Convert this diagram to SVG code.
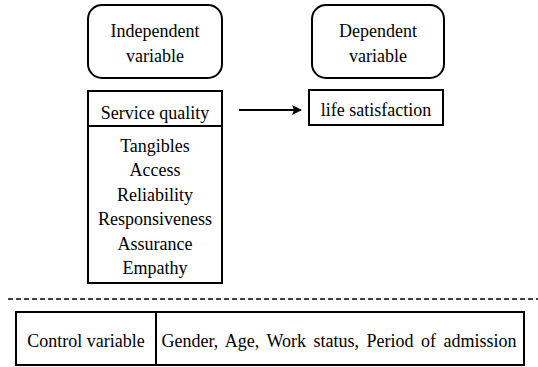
<svg xmlns="http://www.w3.org/2000/svg" width="538" height="367" viewBox="0 0 538 367" font-family="Liberation Serif, Times New Roman, serif" font-size="18">
<style>
text{fill:#000;text-anchor:middle}
.b{fill:#fff;stroke:#000;stroke-width:2}
.l{stroke:#000;stroke-width:2;fill:none}
</style>
<defs>
<marker id="ah" viewBox="0 0 10 10" refX="9" refY="5" markerWidth="5" markerHeight="5" orient="auto" markerUnits="strokeWidth">
<path d="M0,0 L10,5 L0,10 L2,5 z" fill="#000"/>
</marker>
</defs>
<rect width="538" height="367" fill="#fff"/>
<g id="independent">
<rect class="b" x="88" y="5" width="134" height="73" rx="14"/>
<text x="155" y="37">Independent</text>
<text x="155" y="62">variable</text>
</g>
<g id="dependent">
<rect class="b" x="312" y="5" width="132" height="73" rx="14"/>
<text x="378" y="37">Dependent</text>
<text x="378" y="62">variable</text>
</g>
<g id="service-quality">
<rect class="b" x="88" y="91" width="134" height="192"/>
<line class="l" x1="88" y1="126" x2="222" y2="126"/>
<text x="155" y="119">Service quality</text>
<text x="155" y="152">Tangibles</text>
<text x="155" y="176">Access</text>
<text x="155" y="201">Reliability</text>
<text x="155" y="225">Responsiveness</text>
<text x="155" y="250">Assurance</text>
<text x="155" y="274">Empathy</text>
</g>
<g id="life-satisfaction">
<rect class="b" x="309" y="90" width="134" height="35"/>
<text x="376" y="116">life satisfaction</text>
</g>
<g id="connectors">
<line class="l" x1="239" y1="110" x2="301" y2="110" marker-end="url(#ah)"/>
<line x1="8" y1="299" x2="538" y2="299" stroke="#000" stroke-width="1.5" stroke-dasharray="5,3"/>
</g>
<g id="control">
<rect class="b" x="16" y="312" width="508" height="53"/>
<line class="l" x1="156" y1="312" x2="156" y2="365"/>
<text x="86" y="347">Control variable</text>
<text x="339" y="347" word-spacing="3">Gender, Age, Work status, Period of admission</text>
</g>
</svg>
